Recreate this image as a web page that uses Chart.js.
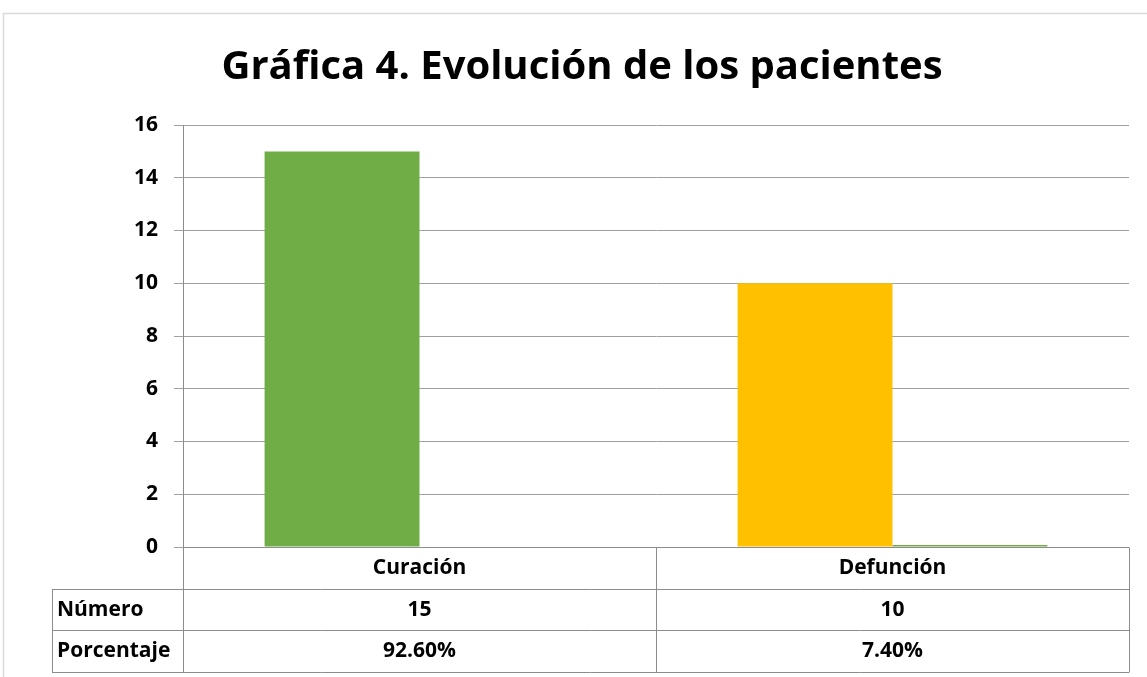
<!DOCTYPE html>
<html>
<head>
<meta charset="utf-8">
<script src="https://cdn.jsdelivr.net/npm/chart.js@4.4.0/dist/chart.umd.min.js"></script>
<style>
  body { margin: 0; background: #fff; }
  #wrap { position: relative; width: 1147px; height: 677px; }
</style>
</head>
<body>
<div id="wrap"><canvas id="evolucionChart" width="1147" height="677"></canvas></div>
<script>
// Data
var chartTitle = 'Gráfica 4. Evolución de los pacientes';
var categories = ['Curación', 'Defunción'];
var numero = [15, 10];
var porcentaje = [null, 0.074];
var porcentajeLabels = ['92.60%', '7.40%'];
var rowNames = ['Número', 'Porcentaje'];

var FONT = '"Open Sans", Lato, sans-serif';
var LINE = '#8c8c8c';

// Draws the outer frame, the title and the data table below the bars
var tablePlugin = {
    id: 'dataTable',
    beforeDraw: function (chart) {
        var ctx = chart.ctx;
        ctx.save();
        ctx.fillStyle = '#fff';
        ctx.fillRect(0, 0, chart.width, chart.height);
        ctx.strokeStyle = '#d9d9d9';
        ctx.lineWidth = 1.5;
        ctx.beginPath();
        ctx.moveTo(3.5, chart.height + 5);
        ctx.lineTo(3.5, 13.5);
        ctx.lineTo(chart.width + 5, 13.5);
        ctx.stroke();

        ctx.fillStyle = '#000';
        ctx.font = 'bold 40px ' + FONT;
        ctx.textAlign = 'center';
        ctx.textBaseline = 'alphabetic';
        ctx.fillText(chartTitle, 582, 79);
        ctx.restore();
    },
    afterDraw: function (chart) {
        var ctx = chart.ctx;
        var area = chart.chartArea;
        var xs = chart.scales.x;
        var left = area.left, right = area.right;
        var top = area.bottom;
        var rowH = 41.7;
        var bottom = top + rowH * 3;
        var firstCol = 52;
        var half = (xs.getPixelForValue(1) - xs.getPixelForValue(0)) / 2;
        var mid = xs.getPixelForValue(0) + half;

        ctx.save();
        ctx.strokeStyle = LINE;
        ctx.lineWidth = 1;
        ctx.beginPath();
        // horizontal lines
        ctx.moveTo(left, Math.round(top) + 0.5);
        ctx.lineTo(right, Math.round(top) + 0.5);
        for (var r = 1; r <= 3; r++) {
            var y = Math.round(top + rowH * r) + 0.5;
            ctx.moveTo(firstCol, y);
            ctx.lineTo(right, y);
        }
        // vertical lines
        ctx.moveTo(firstCol + 0.5, Math.round(top + rowH) + 0.5);
        ctx.lineTo(firstCol + 0.5, Math.round(bottom) + 0.5);
        [left, mid, right].forEach(function (x) {
            ctx.moveTo(Math.round(x) + 0.5, Math.round(top) + 0.5);
            ctx.lineTo(Math.round(x) + 0.5, Math.round(bottom) + 0.5);
        });
        ctx.stroke();

        ctx.fillStyle = '#000';
        ctx.font = 'bold 21px ' + FONT;
        ctx.textBaseline = 'middle';
        ctx.textAlign = 'center';
        categories.forEach(function (c, i) {
            var cx = xs.getPixelForValue(i);
            ctx.fillText(c, cx, top + rowH * 0.5);
            ctx.fillText(String(numero[i]), cx, top + rowH * 1.5);
            ctx.fillText(porcentajeLabels[i], cx, top + rowH * 2.5);
        });
        ctx.textAlign = 'left';
        rowNames.forEach(function (n, i) {
            ctx.fillText(n, firstCol + 5, top + rowH * (1.5 + i));
        });
        ctx.restore();
    }
};

new Chart(document.getElementById('evolucionChart').getContext('2d'), {
    type: 'bar',
    data: {
        labels: categories,
        datasets: [{
            label: rowNames[0],
            data: numero,
            backgroundColor: ['#70AD47', '#FFC000'],
            borderWidth: 0
        }, {
            label: rowNames[1],
            data: porcentaje,
            backgroundColor: '#70AD47',
            borderWidth: 0
        }]
    },
    options: {
        responsive: false,
        animation: false,
        layout: { padding: { left: 0, right: 18, top: 125, bottom: 130 } },
        datasets: { bar: { categoryPercentage: 0.655, barPercentage: 1.0 } },
        plugins: {
            legend: { display: false },
            tooltip: { enabled: false },
            title: { display: false }
        },
        scales: {
            x: { display: false },
            y: {
                min: 0,
                max: 16,
                ticks: { stepSize: 2, color: '#000', padding: 16, font: { family: FONT, size: 21, weight: 'bold' } },
                grid: { color: '#a0a0a0', tickLength: 9 },
                border: { display: true, color: LINE },
                afterFit: function (scale) { scale.width = 183; }
            }
        }
    },
    plugins: [tablePlugin]
});
</script>
</body>
</html>
